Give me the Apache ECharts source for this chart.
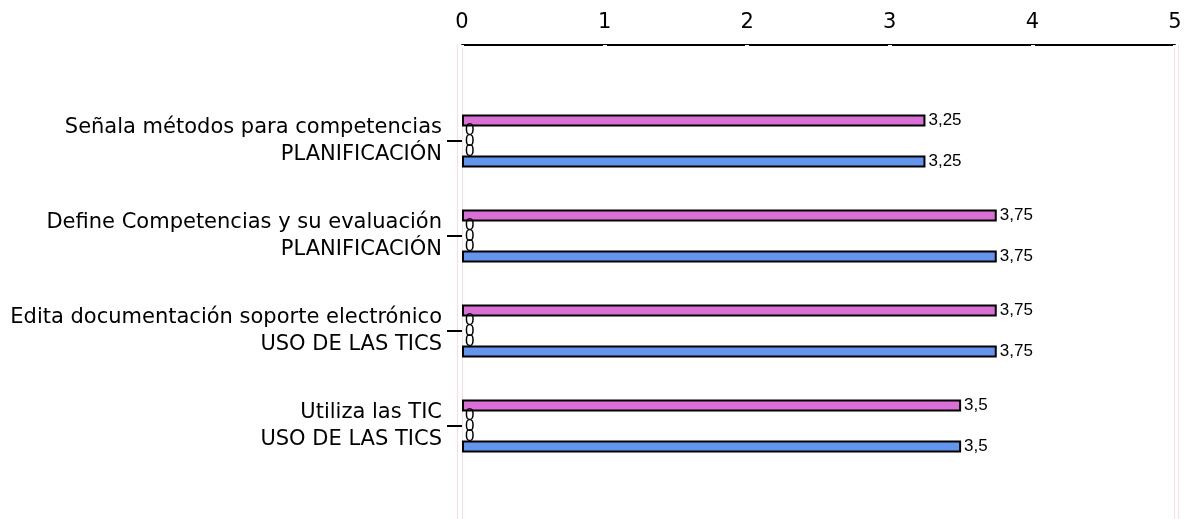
<!DOCTYPE html>
<html>
<head>
<meta charset="utf-8">
<script src="https://cdn.jsdelivr.net/npm/echarts@6/dist/echarts.min.js"></script>
<style>html,body{margin:0;padding:0;background:#fff}#c{width:1192px;height:519px}</style>
</head>
<body>
<div id="c"></div>
<script>
var categories = [
  "Señala métodos para competencias\nPLANIFICACIÓN",
  "Define Competencias y su evaluación\nPLANIFICACIÓN",
  "Edita documentación soporte electrónico\nUSO DE LAS TICS",
  "Utiliza las TIC\nUSO DE LAS TICS"
];
var seriesTop = [3.25, 3.75, 3.75, 3.5];
var seriesZero1 = [0, 0, 0, 0];
var seriesZero2 = [0, 0, 0, 0];
var seriesZero3 = [0, 0, 0, 0];
var seriesBottom = [3.25, 3.75, 3.75, 3.5];
var xTicks = [0, 1, 2, 3, 4, 5];

var T = 'rgba(0,0,0,0)';
function mk(name, data, color, border) {
  return {
    name: name, type: 'bar', data: data, barWidth: 12, barGap: '-15%',
    xAxisIndex: 0, yAxisIndex: 0,
    itemStyle: { color: color, borderColor: '#000', borderWidth: border },
    label: {
      show: true, position: 'right', distance: 3,
      fontFamily: 'Liberation Sans', fontSize: 17, color: '#000',
      formatter: function (p) { return String(p.value).replace('.', ','); }
    }
  };
}
function bgX(idx) {
  return {
    type: 'value', gridIndex: idx, min: xTicks[0], max: xTicks[xTicks.length - 1], interval: 1,
    axisLine: { show: false }, axisTick: { show: false }, axisLabel: { show: false },
    splitLine: { show: true, lineStyle: { color: ['#fcdcdc', T, T, T, T, '#fcdcdc'], width: 1 } }
  };
}
function bgY(idx) {
  return { type: 'value', gridIndex: idx, show: false, min: 0, max: 1, splitLine: { show: false } };
}

var chart = echarts.init(document.getElementById('c'));
chart.setOption({
  animation: false,
  grid: [
    { left: 462, right: 17, top: 93.5, bottom: 45.5 },
    { left: 462, right: 18, top: 45, bottom: 0 },
    { left: 457, right: 14, top: 45, bottom: 0 }
  ],
  xAxis: [{
    type: 'value', gridIndex: 0, position: 'top', min: xTicks[0], max: xTicks[xTicks.length - 1], interval: 1,
    offset: 48.5,
    axisLine: { show: true, lineStyle: { color: '#000', width: 2 } },
    axisTick: { show: true, inside: true, length: 3, lineStyle: { color: '#fff', width: 4 } },
    axisLabel: { fontFamily: 'DejaVu Sans', fontSize: 21, color: '#000', margin: 12 },
    splitLine: { show: false }
  }, bgX(1), bgX(2)],
  yAxis: [{
    type: 'category', gridIndex: 0, data: categories, inverse: true,
    axisLine: { show: false },
    axisTick: { show: true, alignWithLabel: true, length: 15, lineStyle: { color: '#000', width: 2 } },
    axisLabel: { fontFamily: 'DejaVu Sans', fontSize: 21, color: '#000', margin: 20, lineHeight: 27, align: 'right' },
    splitLine: { show: false }
  }, bgY(1), bgY(2)],
  series: [
    mk('s1', seriesTop, '#DA70D6', 2),
    mk('s2', seriesZero1, '#ffffff', 0),
    mk('s3', seriesZero2, '#ffffff', 0),
    mk('s4', seriesZero3, '#ffffff', 0),
    mk('s5', seriesBottom, '#6495ED', 2)
  ]
});
</script>
</body>
</html>
